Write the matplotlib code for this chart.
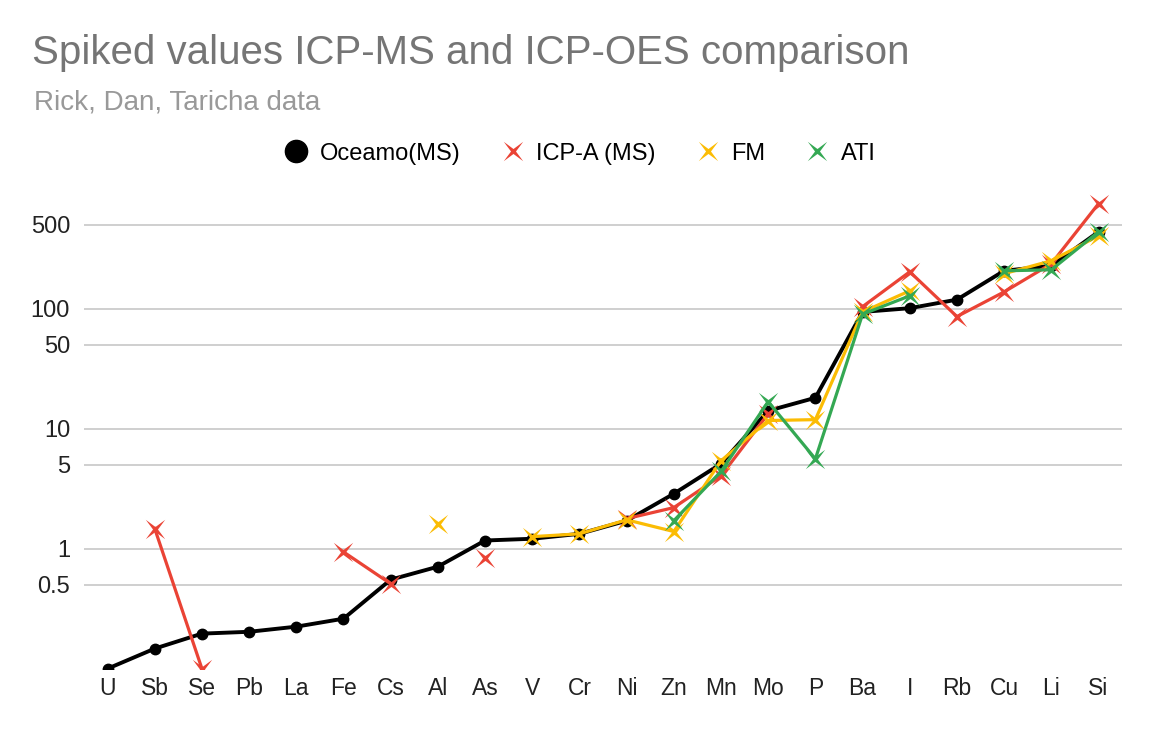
import numpy as np
import matplotlib
matplotlib.use("Agg")
import matplotlib.pyplot as plt
from matplotlib.path import Path
from matplotlib.lines import Line2D

plt.rcParams['font.family'] = ['Liberation Sans', 'DejaVu Sans']

nan = np.nan

# elements on the x axis
elements = ["U", "Sb", "Se", "Pb", "La", "Fe", "Cs", "Al", "As", "V", "Cr",
            "Ni", "Zn", "Mn", "Mo", "P", "Ba", "I", "Rb", "Cu", "Li", "Si"]

oceamo = [0.1, 0.147, 0.196, 0.203, 0.224, 0.261, 0.552, 0.708, 1.17, 1.21, 1.33,
          1.71, 2.87, 5.1, 14.1, 18.1, 94, 101, 119, 207, 228, 437]
icpa = [nan, 1.47, 0.1, nan, nan, 0.94, 0.51, nan, 0.83, nan, nan,
        1.78, 2.2, 4.05, 13.3, nan, 104, 203, 86, 138, 237, 750]
fm = [nan, nan, nan, nan, nan, nan, nan, 1.62, nan, 1.26, 1.33,
      1.74, 1.39, 5.4, 11.7, 11.9, 94, 141, nan, 196, 251, 405]
ati = [nan, nan, nan, nan, nan, nan, nan, nan, nan, nan, nan,
       nan, 1.71, 4.4, 16.8, 5.6, 90, 128, nan, 207, 211, 437]

yticks = [0.5, 1, 5, 10, 50, 100, 500]

# 4 pointed star, rotated like an x
r_in = 0.18
verts = []
for k in range(4):
    a = np.deg2rad(45 + 90 * k)
    verts.append((np.cos(a), np.sin(a)))
    b = np.deg2rad(90 + 90 * k)
    verts.append((r_in * np.cos(b), r_in * np.sin(b)))
verts.append(verts[0])
codes = [Path.MOVETO] + [Path.LINETO] * (len(verts) - 2) + [Path.CLOSEPOLY]
star = Path(verts, codes)

fig = plt.figure(figsize=(11.58, 7.32), dpi=100)
ax = fig.add_axes([0.0725, 0.0865, 0.8965, 0.6557])

x = np.arange(len(elements))

ax.plot(x, oceamo, color="black", lw=2.8, marker="o", ms=7.5, zorder=3, label="Oceamo(MS)")
ax.plot(x, icpa, color="#EA4335", lw=2.3, marker=star, ms=14, mew=0, zorder=4, label="ICP-A (MS)")
ax.plot(x, fm, color="#FBBC04", lw=2.3, marker=star, ms=14, mew=0, zorder=5, label="FM")
ax.plot(x, ati, color="#34A853", lw=2.3, marker=star, ms=14, mew=0, zorder=6, label="ATI")

ax.set_yscale("log")
ax.set_ylim(0.1, 1000)
ax.set_xlim(-0.5, len(elements) - 0.5)
ax.set_yticks(yticks)
ax.set_yticklabels([str(v) for v in yticks])
ax.yaxis.set_minor_locator(matplotlib.ticker.NullLocator())
ax.set_xticks(x)
ax.set_xticklabels(elements)
ax.tick_params(length=0, colors="#222222")
ax.tick_params(axis="y", pad=10, labelsize=17)
ax.tick_params(axis="x", pad=6, labelsize=16.5)
ax.grid(axis="y", color="#cccccc", lw=1.3)
ax.set_axisbelow(True)
for s in ax.spines.values():
    s.set_visible(False)

fig.text(0.028, 0.912, "Spiked values ICP-MS and ICP-OES comparison", fontsize=29,
         color="#757575", va="baseline")
fig.text(0.029, 0.85, "Rick, Dan, Taricha data", fontsize=20, color="#999999", va="baseline")

handles = [
    Line2D([], [], ls="none", marker="o", color="black", ms=16),
    Line2D([], [], ls="none", marker=star, color="#EA4335", mew=0, ms=14),
    Line2D([], [], ls="none", marker=star, color="#FBBC04", mew=0, ms=14),
    Line2D([], [], ls="none", marker=star, color="#34A853", mew=0, ms=14),
]
fig.legend(handles, ["Oceamo(MS)", "ICP-A (MS)", "FM", "ATI"], loc="center",
           bbox_to_anchor=(0.5, 0.79), ncol=4, frameon=False, fontsize=17,
           handletextpad=0.4, columnspacing=1.6, handlelength=1.2)

fig.savefig("out.png", dpi=100)
